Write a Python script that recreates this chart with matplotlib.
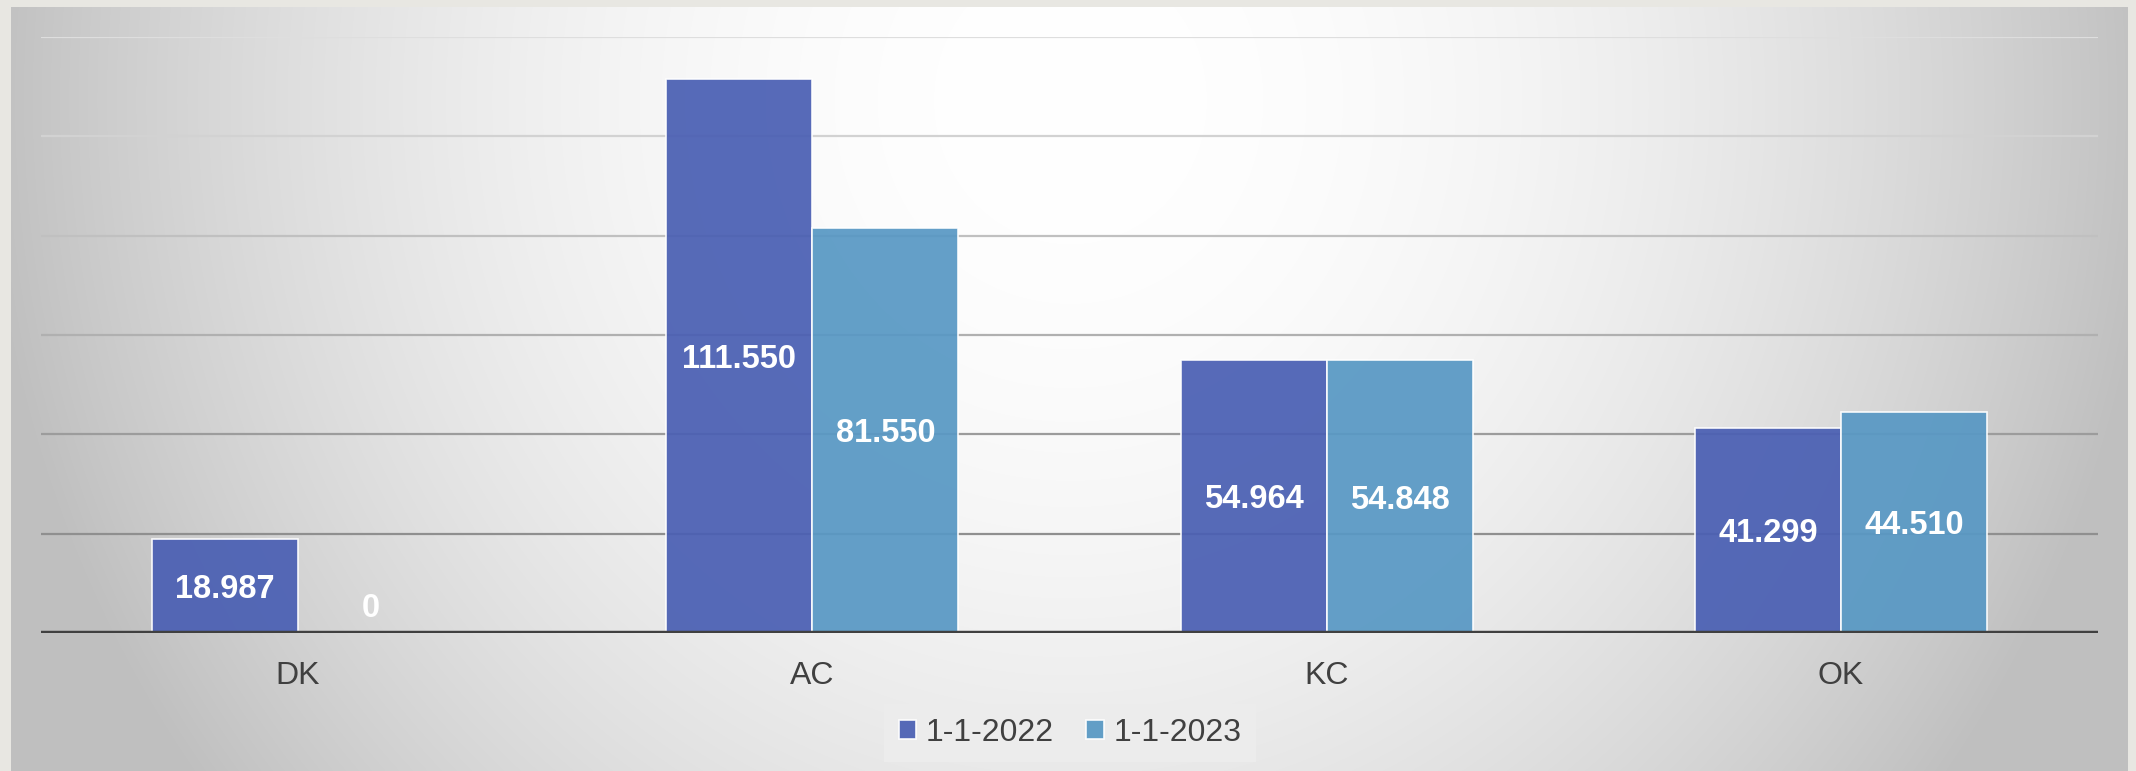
import matplotlib
matplotlib.use('Agg')
import matplotlib.pyplot as plt
import numpy as np

plt.rcParams['font.family'] = ['Liberation Sans', 'DejaVu Sans']

# data
categories = ['DK', 'AC', 'KC', 'OK']
series_names = ['1-1-2022', '1-1-2023']
vals_2022 = [18.987, 111.550, 54.964, 41.299]
vals_2023 = [0, 81.550, 54.848, 44.510]
y_ticks = [0, 20, 40, 60, 80, 100, 120]

W, H = 2136, 771
fig = plt.figure(figsize=(W / 100, H / 100), dpi=100, facecolor='#e8e7e2')

# grey radial background panel
x0, x1, y0 = 11, 2128, 7
bg = fig.add_axes([x0 / W, 0, (x1 - x0) / W, (H - y0) / H], zorder=0)
xx, yy = np.meshgrid(np.arange(x0, x1), np.arange(y0, H))
d2 = ((xx - 1070) / 1090.0) ** 2 + ((yy - 100) / 1150.0) ** 2
shade = 255 - 64 * np.clip(d2, 0, 1)
img = np.dstack([shade, shade, shade]) / 255.0
bg.imshow(img, aspect='auto', interpolation='bilinear')
bg.axis('off')

# main chart
ax = fig.add_axes([41 / W, 138 / H, 2057 / W, (633 - 36.8) / H], zorder=1)
ax.set_facecolor('none')

x = np.arange(len(categories))
w = 0.284
b1 = ax.bar(x - w / 2, vals_2022, w, color='#4a5fb3', alpha=0.93,
            edgecolor=(1, 1, 1, 0.45), linewidth=1.2, zorder=3, label=series_names[0])
b2 = ax.bar(x + w / 2, vals_2023, w, color='#5898c4', alpha=0.93,
            edgecolor=(1, 1, 1, 0.45), linewidth=1.2, zorder=3, label=series_names[1])

# gridlines get darker towards the bottom
grid_cols = {20: '#8f8f8f', 40: '#9c9c9c', 60: '#b0b0b0', 80: '#c0c0c0',
             100: '#d2d2d2', 120: '#dedede'}
for t in y_ticks[1:]:
    ax.axhline(t, color=grid_cols[t], lw=1.6, zorder=1)
ax.axhline(0, color='#404040', lw=3.2, zorder=4)

for bars, vals in [(b1, vals_2022), (b2, vals_2023)]:
    for rect, v in zip(bars, vals):
        cx = rect.get_x() + rect.get_width() / 2
        if v == 0:
            ax.annotate('0', (cx, 0), xytext=(0, 20), textcoords='offset points',
                        ha='center', va='center_baseline', color='white',
                        fontsize=23.5, fontweight='bold', zorder=5)
        else:
            ax.text(cx, v / 2, f'{v:.3f}', ha='center', va='center_baseline',
                    color='white', fontsize=23.5, fontweight='bold', zorder=5)

ax.set_xlim(-0.5, len(categories) - 0.5)
ax.set_ylim(0, 120)
ax.set_yticks([])
ax.set_xticks(x)
ax.set_xticklabels(categories, fontsize=23, color='#404040')
ax.tick_params(axis='x', length=0, pad=20)
for s in ax.spines.values():
    s.set_visible(False)

leg = fig.legend(handles=[b1, b2], loc='center', bbox_to_anchor=(1070 / W, 38 / H),
                 ncol=2, fontsize=23, frameon=True, fancybox=False,
                 facecolor='#ececec', edgecolor='none', framealpha=1,
                 handlelength=0.55, handleheight=0.55, handletextpad=0.3,
                 columnspacing=1.0, borderpad=0.45)
for t in leg.get_texts():
    t.set_color('#404040')

fig.savefig('out.png', dpi=100, facecolor=fig.get_facecolor())
